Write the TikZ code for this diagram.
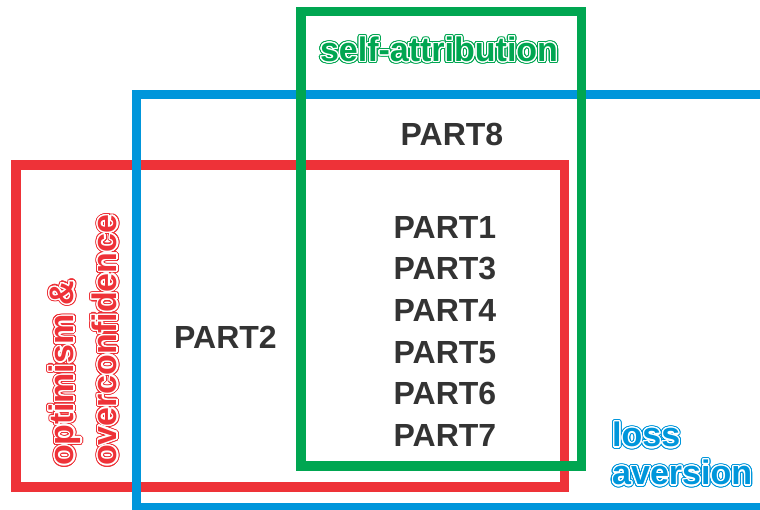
\documentclass[tikz,border=0pt]{standalone}
\usepackage{fontspec}
\setmainfont{Liberation Sans}
\usepackage{contour}
\contournumber{32}
\definecolor{dfred}{RGB}{238,50,56}
\definecolor{dfblue}{RGB}{0,150,219}
\definecolor{dfgreen}{RGB}{0,166,81}
\definecolor{dfgray}{RGB}{51,51,51}
% green/white/green ring letters
\newcommand{\ringtext}[2]{\makebox[0pt][l]{\contourlength{2.4pt}\contour{#1}{\textcolor{#1}{#2}}}{\contourlength{1.2pt}\contour{white}{\textcolor{#1}{#2}}}}
\tikzstyle{biasbox} = [line width=9.5pt]
\tikzstyle{part} = [inner sep=0pt, text=dfgray, font=\fontsize{32}{41.6}\selectfont\bfseries, align=center]
\tikzstyle{biaslabel} = [inner sep=0pt, font=\fontsize{34}{38}\selectfont\bfseries, align=left]

\begin{document}
\begin{tikzpicture}[x=1pt,y=-1pt]
\useasboundingbox (0,0) rectangle (760,509);

% Boxes
\draw[biasbox, dfred] (16,165) rectangle (564.5,487);
\draw[biasbox, dfblue] (136.5,94.5) rectangle (800,508);
\draw[biasbox, dfgreen] (301,11.5) rectangle (581.5,466);

% Box labels
\node[biaslabel, anchor=base] (selfattr) at (439,61.5) {\ringtext{dfgreen}{self-attribution}};
\node[biaslabel, anchor=north west] (loss) at (612,422) {\ringtext{dfblue}{loss}\\\ringtext{dfblue}{aversion}};
\node[biaslabel, anchor=north west, rotate=90, font=\fontsize{34}{43}\selectfont\bfseries] (optim) at (49,466) {\ringtext{dfred}{optimism \&}\\\ringtext{dfred}{overconfidence}};

% Parts
\node[part] (part8) at (452,134.5) {PART8};
\node[part] (part2) at (225.5,337.5) {PART2};
\node[part, anchor=north] (inner) at (445,216) {PART1\\PART3\\PART4\\PART5\\PART6\\PART7};
\end{tikzpicture}
\end{document}
